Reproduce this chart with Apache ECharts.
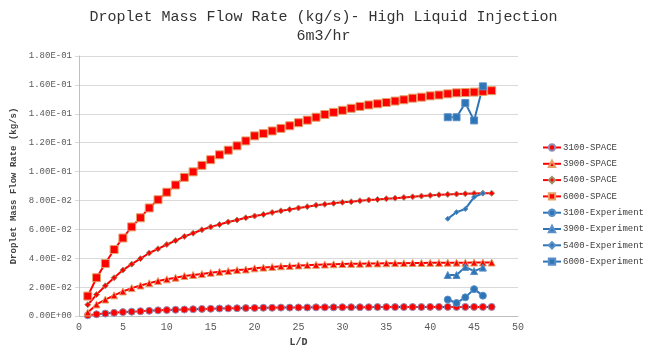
<!DOCTYPE html>
<html>
<head>
<meta charset="utf-8">
<script src="https://cdn.jsdelivr.net/npm/echarts@6/dist/echarts.min.js"></script>
<style>
  html, body { margin: 0; padding: 0; background: #fff; }
  #chart { width: 647px; height: 352px; }
</style>
</head>
<body>
<div id="chart"></div>
<script>
// L/D positions for the SPACE runs
const ld = [1, 2, 3, 4, 5, 6, 7, 8, 9, 10, 11, 12, 13, 14, 15, 16, 17, 18, 19, 20,
  21, 22, 23, 24, 25, 26, 27, 28, 29, 30, 31, 32, 33, 34, 35, 36, 37, 38, 39, 40,
  41, 42, 43, 44, 45, 46, 47]
// L/D positions for the experiment points
const ldExp = [42, 43, 44, 45, 46]

const space3100 = [0.0005, 0.0012, 0.0017, 0.0022, 0.0027, 0.0030, 0.0033, 0.0036, 0.0039, 0.0041,
  0.0043, 0.0045, 0.0047, 0.0049, 0.0050, 0.0052, 0.0053, 0.0054, 0.0055, 0.0056,
  0.0057, 0.0057, 0.0058, 0.0058, 0.0059, 0.0059, 0.0060, 0.0060, 0.0060, 0.0061,
  0.0061, 0.0061, 0.0061, 0.0062, 0.0062, 0.0062, 0.0062, 0.0062, 0.0062, 0.0063,
  0.0063, 0.0063, 0.0063, 0.0063, 0.0063, 0.0063, 0.0063]
const space3900 = [0.0025, 0.0080, 0.0114, 0.0143, 0.0170, 0.0193, 0.0211, 0.0227, 0.0243, 0.0254,
  0.0265, 0.0277, 0.0284, 0.0290, 0.0299, 0.0306, 0.0311, 0.0318, 0.0322, 0.0330,
  0.0335, 0.0340, 0.0344, 0.0347, 0.0350, 0.0352, 0.0354, 0.0356, 0.0358, 0.0360,
  0.0361, 0.0362, 0.0363, 0.0364, 0.0365, 0.0366, 0.0366, 0.0367, 0.0367, 0.0368,
  0.0368, 0.0369, 0.0369, 0.0369, 0.0370, 0.0370, 0.0370]
const space5400 = [0.0078, 0.0148, 0.0209, 0.0265, 0.0318, 0.0359, 0.0397, 0.0436, 0.0465, 0.0495,
  0.0522, 0.0551, 0.0573, 0.0597, 0.0617, 0.0633, 0.0651, 0.0665, 0.0680, 0.0692,
  0.0703, 0.0717, 0.0728, 0.0737, 0.0748, 0.0757, 0.0767, 0.0773, 0.0780, 0.0787,
  0.0791, 0.0798, 0.0803, 0.0807, 0.0812, 0.0816, 0.0821, 0.0825, 0.0830, 0.0835,
  0.0839, 0.0842, 0.0844, 0.0846, 0.0848, 0.0850, 0.0850]
const space6000 = [0.0138, 0.0265, 0.0363, 0.0460, 0.0540, 0.0617, 0.0680, 0.0748, 0.0805, 0.0857,
  0.0907, 0.0960, 0.0998, 0.1043, 0.1082, 0.1116, 0.1148, 0.1178, 0.1212, 0.1247,
  0.1263, 0.1281, 0.1299, 0.1317, 0.1338, 0.1356, 0.1376, 0.1395, 0.1410, 0.1424,
  0.1438, 0.1451, 0.1461, 0.1469, 0.1478, 0.1488, 0.1497, 0.1508, 0.1515, 0.1524,
  0.1530, 0.1538, 0.1545, 0.1547, 0.1550, 0.1555, 0.1560]

const exp3100 = [0.0114, 0.0090, 0.0129, 0.0186, 0.0141]
const exp3900 = [0.0284, 0.0284, 0.0340, 0.0311, 0.0335]
const exp5400 = [0.0673, 0.0719, 0.0741, 0.0823, 0.0850]
const exp6000 = [0.1376, 0.1376, 0.1474, 0.1354, 0.1590]

const yTicks = [0, 0.02, 0.04, 0.06, 0.08, 0.10, 0.12, 0.14, 0.16, 0.18]

const RED = '#ff0000'
const BLUE = '#2e75b6'
const MONO = '"Liberation Mono", "DejaVu Sans Mono", monospace'

const pairs = (xs, ys) => xs.map((x, i) => [x, ys[i]])

// 1.80E-01 style labels
const sci = (v) => {
  if (v === 0) return '0.00E+00'
  let e = Math.floor(Math.log10(Math.abs(v)) + 1e-9)
  let m = v / Math.pow(10, e)
  const sign = e < 0 ? '-' : '+'
  const ea = Math.abs(e)
  return m.toFixed(2) + 'E' + sign + (ea < 10 ? '0' + ea : ea)
}

const makeLine = (name, xs, ys, color, symbol, size, border) => ({
  name,
  type: 'line',
  data: pairs(xs, ys),
  symbol,
  symbolSize: size,
  showSymbol: true,
  lineStyle: { color, width: 2 },
  itemStyle: { color, borderColor: border, borderWidth: 1 },
  z: 3,
})

const chart = echarts.init(document.getElementById('chart'))
chart.setOption({
  animation: false,
  title: {
    text: 'Droplet Mass Flow Rate (kg/s)- High Liquid Injection\n6m3/hr',
    left: 'center',
    top: 3,
    textStyle: {
      fontFamily: MONO,
      fontSize: 15,
      fontWeight: 'normal',
      color: '#333',
      lineHeight: 19,
    },
  },
  grid: {
    left: 79,
    right: 129,
    top: 56,
    bottom: 32,
  },
  legend: {
    orient: 'vertical',
    left: 537,
    top: 138,
    itemWidth: 18,
    itemHeight: 8,
    itemGap: 7.3,
    textStyle: { fontFamily: MONO, fontSize: 9, color: '#404040', padding: [0, 0, 0, -3] },
    data: ['3100-SPACE', '3900-SPACE', '5400-SPACE', '6000-SPACE',
      '3100-Experiment', '3900-Experiment', '5400-Experiment', '6000-Experiment'],
  },
  xAxis: {
    type: 'value',
    min: 0,
    max: 50,
    interval: 5,
    name: 'L/D',
    nameLocation: 'middle',
    nameGap: 21,
    nameTextStyle: { fontFamily: MONO, fontSize: 10, fontWeight: 'bold', color: '#404040' },
    axisLine: { show: true, lineStyle: { color: '#bfbfbf' } },
    axisTick: { show: false },
    splitLine: { show: false },
    axisLabel: { fontFamily: MONO, fontSize: 10, color: '#595959', margin: 6 },
  },
  yAxis: {
    type: 'value',
    min: 0,
    max: 0.18,
    interval: 0.02,
    name: 'Droplet Mass Flow Rate (kg/s)',
    nameLocation: 'middle',
    nameGap: 58,
    nameTextStyle: { fontFamily: MONO, fontSize: 9, fontWeight: 'bold', color: '#404040' },
    axisLine: { show: true, lineStyle: { color: '#bfbfbf' } },
    axisTick: { show: true, length: 4, lineStyle: { color: '#d9d9d9' } },
    splitLine: { lineStyle: { color: '#d9d9d9', width: 1 } },
    axisLabel: {
      fontFamily: MONO,
      fontSize: 9,
      color: '#595959',
      margin: 7,
      formatter: (v) => {
        const t = yTicks.find((k) => Math.abs(k - v) < 1e-9)
        return sci(t === undefined ? v : t)
      },
    },
  },
  series: [
    makeLine('3100-SPACE', ld, space3100, RED, 'circle', 7, '#8e8fb8'),
    makeLine('3900-SPACE', ld, space3900, RED, 'triangle', 7, '#e2a36a'),
    makeLine('5400-SPACE', ld, space5400, RED, 'diamond', 6, '#a08f6a'),
    makeLine('6000-SPACE', ld, space6000, RED, 'rect', 8, '#e2a36a'),
    makeLine('3100-Experiment', ldExp, exp3100, BLUE, 'circle', 7, '#5b8fc7'),
    makeLine('3900-Experiment', ldExp, exp3900, BLUE, 'triangle', 7, '#5b8fc7'),
    makeLine('5400-Experiment', ldExp, exp5400, BLUE, 'diamond', 5, '#5b8fc7'),
    makeLine('6000-Experiment', ldExp, exp6000, BLUE, 'rect', 7, '#5b8fc7'),
  ],
})
</script>
</body>
</html>
